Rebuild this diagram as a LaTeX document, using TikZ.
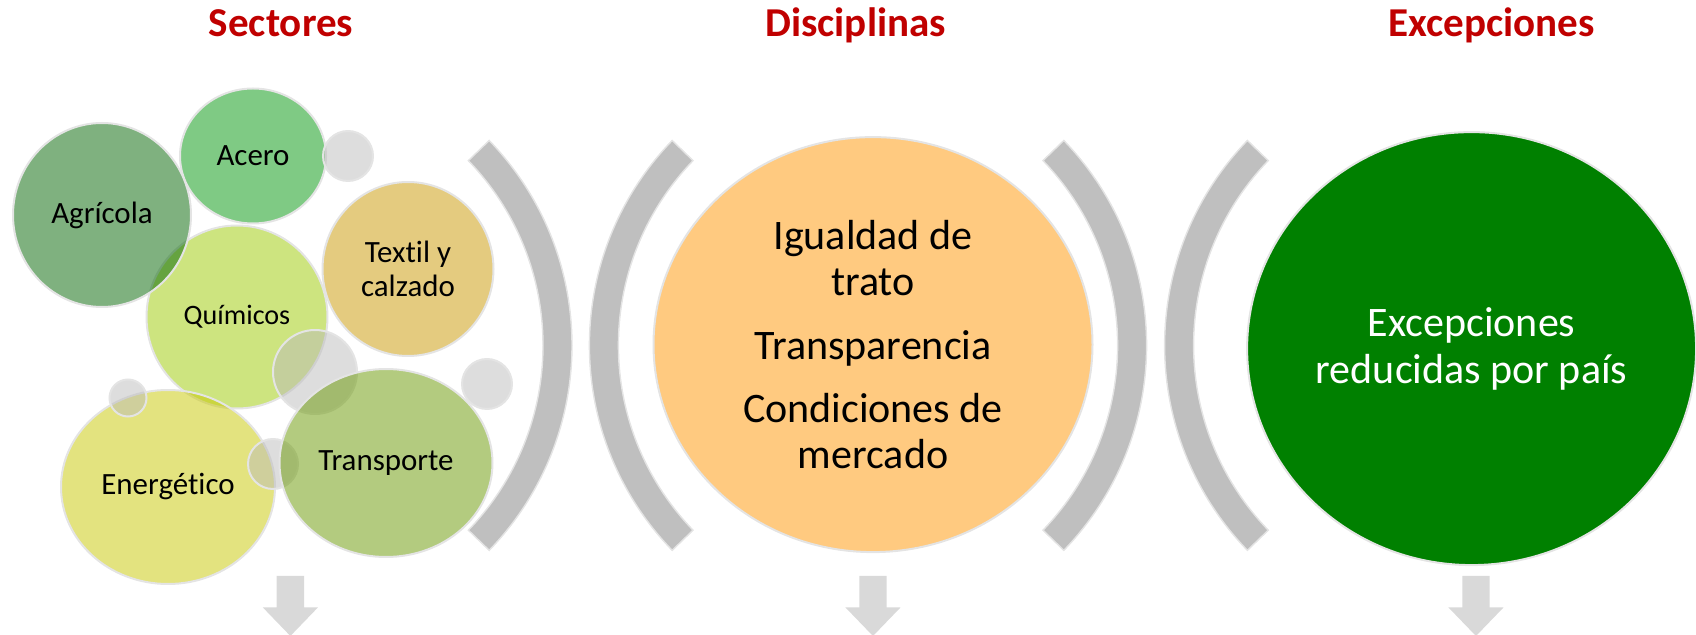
\documentclass[tikz,border=0pt]{standalone}
\usepackage{fontspec}
\setmainfont[Ligatures=NoCommon]{Carlito}
\usepackage{tikz}
\usetikzlibrary{calc,shapes}

\definecolor{titlered}{RGB}{192,0,0}
\definecolor{bubbleline}{RGB}{228,228,228}
\definecolor{agricolacol}{RGB}{0,100,0}
\definecolor{acerocol}{RGB}{0,150,10}
\definecolor{quimicoscol}{RGB}{155,201,0}
\definecolor{textilcol}{RGB}{201,151,0}
\definecolor{energcol}{RGB}{199,199,0}
\definecolor{transpcol}{RGB}{103,151,0}
\definecolor{bubblegray}{RGB}{187,187,187}
\definecolor{disccol}{RGB}{255,202,128}
\definecolor{exccol}{RGB}{0,128,0}
\definecolor{bracketgray}{RGB}{191,191,191}
\definecolor{arrowgray}{RGB}{217,217,217}

\begin{document}
\begin{tikzpicture}

  \path[use as bounding box] (0mm,0mm) rectangle (424mm,158.75mm);

  \tikzstyle{heading}=[font=\fontsize{29.2}{32}\selectfont\bfseries,text=titlered,anchor=base]
  \tikzstyle{bubble}=[draw=bubbleline,line width=0.5mm,ellipse,inner sep=0mm,fill opacity=0.5,text opacity=1,align=center,font=\fontsize{22}{24.2}\selectfont]
  \tikzstyle{graybubble}=[bubble,circle,fill=bubblegray]
  \tikzstyle{bigcircle}=[draw=bubbleline,line width=0.5mm,ellipse,inner sep=0mm,align=center,font=\fontsize{29.9}{32.7}\selectfont]
  \tikzstyle{bracket}=[fill=bracketgray,draw=bubbleline,line width=0.35mm]
  \tikzstyle{downarrow}=[fill=arrowgray]

  % headings
  \node[heading] (sect) at (70.25mm,149.5mm) {Sectores};
  \node[heading] (disc-h) at (213.9mm,149.5mm) {Disciplinas};
  \node[heading] (exc-h) at (372.9mm,149.5mm) {Excepciones};

  % sector bubbles
  \node[bubble,fill=quimicoscol,minimum width=45.25mm,minimum height=45.75mm,font=\fontsize{20}{24}\selectfont] (quim) at (59.25mm,79.5mm) {Químicos};
  \node[bubble,fill=agricolacol,minimum width=44.5mm,minimum height=46mm] (agri) at (25.5mm,105mm) {Agrícola};
  \node[bubble,fill=acerocol,minimum width=36.5mm,minimum height=33.75mm] (acero) at (63.25mm,119.75mm) {Acero};
  \node[graybubble,minimum size=12.5mm] (g1) at (87mm,119.75mm) {};
  \node[bubble,fill=textilcol,minimum width=42.75mm,minimum height=43.5mm] (textil) at (102mm,91.5mm) {Textil y\\calzado};
  \node[graybubble,minimum size=21mm] (g2) at (78.75mm,65.75mm) {};
  \node[bubble,fill=energcol,minimum width=53.5mm,minimum height=48.5mm] (energ) at (42mm,37mm) {Energético};
  \node[graybubble,minimum size=9.25mm] (g3) at (32mm,59.25mm) {};
  \node[graybubble,minimum size=12.5mm] (g4) at (68.25mm,42.75mm) {};
  \node[bubble,fill=transpcol,minimum width=53.25mm,minimum height=47mm] (transp) at (96.5mm,43mm) {Transporte};
  \node[graybubble,minimum size=12.5mm] (g5) at (121.75mm,62.75mm) {};

  % big circles
  \node[bigcircle,fill=disccol,minimum width=109.75mm,minimum height=103.75mm] (disc) at (218.25mm,72.6mm) {Igualdad de\\trato\\[12.5pt]Transparencia\\[12.5pt]Condiciones de\\mercado};
  \node[bigcircle,fill=exccol,text=white,minimum width=112.25mm,minimum height=108.25mm,font=\fontsize{29.9}{33.4}\selectfont] (exc) at (367.9mm,71.6mm) {Excepciones\\reducidas por país};

  % brackets
  \coordinate (bc1) at (69.25mm,72.4mm);
  \coordinate (bc2) at (221.1mm,72.4mm);
  \coordinate (bc3) at (212.9mm,72.4mm);
  \coordinate (bc4) at (364.9mm,72.4mm);

  \path[bracket] ($(bc1)+(-44:66.5mm)$) arc[start angle=-44,end angle=44,radius=66.5mm] -- ($(bc1)+(44:73.75mm)$) arc[start angle=44,end angle=-44,radius=73.75mm] -- cycle;
  \path[bracket] ($(bc2)+(136:66.5mm)$) arc[start angle=136,end angle=224,radius=66.5mm] -- ($(bc2)+(224:73.75mm)$) arc[start angle=224,end angle=136,radius=73.75mm] -- cycle;
  \path[bracket] ($(bc3)+(-44:66.5mm)$) arc[start angle=-44,end angle=44,radius=66.5mm] -- ($(bc3)+(44:73.75mm)$) arc[start angle=44,end angle=-44,radius=73.75mm] -- cycle;
  \path[bracket] ($(bc4)+(136:66.5mm)$) arc[start angle=136,end angle=224,radius=66.5mm] -- ($(bc4)+(224:73.75mm)$) arc[start angle=224,end angle=136,radius=73.75mm] -- cycle;

  % arrows
  \coordinate (ar1) at (72.6mm,14.75mm);
  \coordinate (ar2) at (218.25mm,14.75mm);
  \coordinate (ar3) at (369mm,14.75mm);

  \fill[downarrow] (ar1) ++(-3.43mm,0) -- ++(6.86mm,0) -- ++(0,-7.875mm) -- ++(3.44mm,0) -- ++(-6.875mm,-7.125mm) -- ++(-6.875mm,7.125mm) -- ++(3.44mm,0) -- cycle;
  \fill[downarrow] (ar2) ++(-3.43mm,0) -- ++(6.86mm,0) -- ++(0,-7.875mm) -- ++(3.44mm,0) -- ++(-6.875mm,-7.125mm) -- ++(-6.875mm,7.125mm) -- ++(3.44mm,0) -- cycle;
  \fill[downarrow] (ar3) ++(-3.43mm,0) -- ++(6.86mm,0) -- ++(0,-7.875mm) -- ++(3.44mm,0) -- ++(-6.875mm,-7.125mm) -- ++(-6.875mm,7.125mm) -- ++(3.44mm,0) -- cycle;

\end{tikzpicture}
\end{document}
